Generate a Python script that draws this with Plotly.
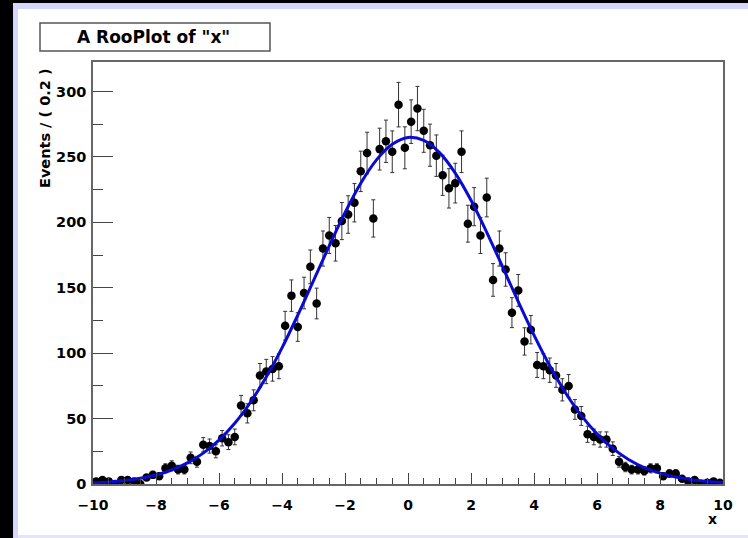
import numpy as np
import plotly.graph_objects as go

# ---- data: binned events (bin width 0.2 on [-10, 10]) ----
bin_centers = [round(-9.9 + 0.2 * i, 1) for i in range(100)]
counts = [
    2, 3, 2, 0, 3, 3, 2, 0, 5, 7,
    6, 12, 14, 11, 11, 20, 17, 30, 29, 25,
    35, 32, 36, 60, 54, 64, 83, 86, 88, 90,
    121, 144, 120, 146, 166, 138, 180, 190, 184, 201,
    206, 215, 239, 253, 203, 256, 262, 254, 290, 257,
    277, 287, 270, 259, 251, 236, 226, 230, 254, 199,
    212, 190, 219, 156, 180, 164, 131, 148, 109, 118,
    91, 90, 87, 83, 72, 75, 57, 52, 38, 36,
    34, 34, 27, 17, 13, 11, 11, 10, 12, 12,
    6, 8, 8, 4, 2, 3, 0, 1, 2, 1,
]
errors = [float(np.sqrt(c)) for c in counts]

# ---- fitted curve ----
curve_x = [-10, -9.5, -9, -8.5, -8, -7.5, -7, -6.5, -6, -5.5, -5, -4.5, -4, -3.5,
           -3, -2.5, -2, -1.5, -1, -0.5, 0, 0.5, 1, 1.5, 2, 2.5, 3, 3.5, 4, 4.5,
           5, 5.5, 6, 6.5, 7, 7.5, 8, 8.5, 9, 9.5, 10]
curve_y = [0.9, 1.6, 2.7, 4.4, 6.9, 10.7, 16.1, 23.6, 33.5, 46.4, 62.5, 81.8, 104.1, 129.0,
           155.4, 182.0, 207.4, 229.9, 247.8, 259.7, 264.9, 262.6, 253.3, 237.7, 216.9, 192.4,
           166.1, 139.4, 113.8, 90.4, 69.8, 52.4, 38.3, 27.2, 18.8, 12.6, 8.3, 5.3, 3.3, 2.0, 1.1]

x_tickvals = [-10, -8, -6, -4, -2, 0, 2, 4, 6, 8, 10]
y_tickvals = [0, 50, 100, 150, 200, 250, 300]

title_text = 'A RooPlot of "x"'
ytitle_text = "Events / ( 0.2 )"
xtitle_text = "x"

FONT = "DejaVu Sans"
W, H = 748, 538
L, R, T, B = 93, 25, 62, 54
PW, PH = W - L - R, H - T - B


def px(xp):
    return (xp - L) / PW


def py(yp):
    return (H - B - yp) / PH


fig = go.Figure()
fig.add_trace(go.Scatter(
    x=bin_centers, y=counts, mode="markers",
    marker=dict(color="black", size=8.5),
    error_y=dict(type="data", array=errors, visible=True, color="#333333",
                 thickness=1, width=2),
    showlegend=False, hoverinfo="x+y",
))
fig.add_trace(go.Scatter(
    x=curve_x, y=curve_y, mode="lines", line=dict(color="#0a0ad0", width=3, shape="spline"),
    showlegend=False,
))

shapes = [
    # page decorations
    dict(type="rect", xref="paper", yref="paper", x0=px(0), x1=px(W), y0=py(0), y1=py(3),
         fillcolor="black", line_width=0, layer="below"),
    dict(type="rect", xref="paper", yref="paper", x0=px(0), x1=px(W), y0=py(3), y1=py(9),
         fillcolor="#d6d6fb", line_width=0, layer="below"),
    dict(type="rect", xref="paper", yref="paper", x0=px(0), x1=px(13), y0=py(H), y1=py(0),
         fillcolor="black", line_width=0, layer="below"),
    dict(type="rect", xref="paper", yref="paper", x0=px(13), x1=px(18), y0=py(H), y1=py(3),
         fillcolor="#d6d6fb", line_width=0, layer="below"),
    dict(type="rect", xref="paper", yref="paper", x0=px(18), x1=px(W), y0=py(H), y1=py(535),
         fillcolor="#e4e4fb", line_width=0, layer="below"),
    # title box
    dict(type="rect", xref="paper", yref="paper", x0=px(40), x1=px(270), y0=py(51), y1=py(23),
         fillcolor="white", line=dict(color="#555555", width=1.5)),
]

annotations = [
    dict(text=title_text, xref="paper", yref="paper", x=px(153), y=py(37), showarrow=False,
         xanchor="center", yanchor="middle",
         font=dict(family=FONT, size=17, color="black", weight="bold")),
    dict(text=ytitle_text, xref="paper", yref="paper", x=px(45), y=py(128), showarrow=False,
         textangle=-90, xanchor="center", yanchor="middle",
         font=dict(family=FONT, size=14.5, color="black", weight="bold")),
    dict(text=xtitle_text, xref="paper", yref="paper", x=px(712), y=py(519), showarrow=False,
         xanchor="center", yanchor="middle",
         font=dict(family=FONT, size=14, color="black", weight="bold")),
]

fig.update_layout(
    width=W, height=H, autosize=False,
    margin=dict(l=L, r=R, t=T, b=B, pad=0),
    paper_bgcolor="white", plot_bgcolor="white",
    shapes=shapes, annotations=annotations,
    xaxis=dict(range=[-10, 10], tickvals=x_tickvals, ticks="inside", ticklen=11,
               tickcolor="#444444", tickwidth=1, showgrid=False, zeroline=False,
               showline=True, linecolor="#666666", linewidth=1.5, mirror=True,
               ticklabelstandoff=7,
               minor=dict(dtick=0.5, ticks="inside", ticklen=6, tickcolor="#444444", showgrid=False),
               tickfont=dict(family=FONT, size=14, color="black", weight="bold")),
    yaxis=dict(range=[0, 322.6], tickvals=y_tickvals, ticks="inside", ticklen=20,
               tickcolor="#444444", tickwidth=1, showgrid=False, zeroline=False,
               showline=True, linecolor="#666666", linewidth=1.5, mirror=True,
               ticklabelstandoff=2,
               minor=dict(dtick=25, ticks="inside", ticklen=10, tickcolor="#444444", showgrid=False),
               tickfont=dict(family=FONT, size=14.5, color="black", weight="bold")),
)

fig.write_html("out.html")
